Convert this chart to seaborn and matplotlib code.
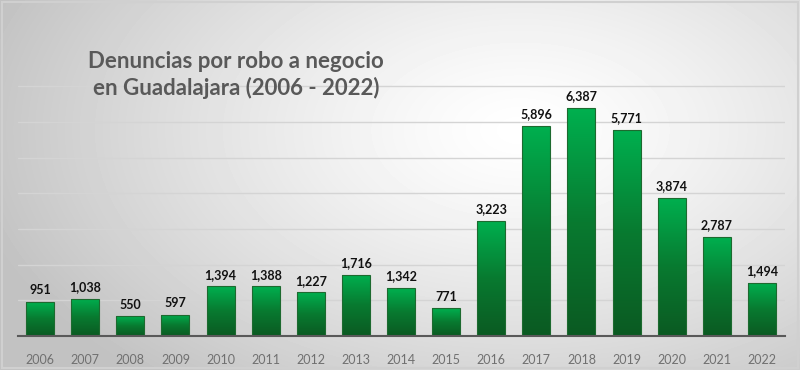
import numpy as np
import pandas as pd
import matplotlib
matplotlib.use("Agg")
import matplotlib.pyplot as plt
import seaborn as sns
from matplotlib.colors import LinearSegmentedColormap
from matplotlib.patches import Rectangle

years = ["2006", "2007", "2008", "2009", "2010", "2011", "2012", "2013", "2014",
         "2015", "2016", "2017", "2018", "2019", "2020", "2021", "2022"]
values = [951, 1038, 550, 597, 1394, 1388, 1227, 1716, 1342,
          771, 3223, 5896, 6387, 5771, 3874, 2787, 1494]
title = "Denuncias por robo a negocio\nen Guadalajara (2006 - 2022)"

sns.set_theme(style="white")
plt.rcParams["font.family"] = ["Lato", "DejaVu Sans"]

W, H = 800, 370
fig = plt.figure(figsize=(W / 100, H / 100), dpi=100)

# background radial gradient
bg = fig.add_axes([0, 0, 1, 1], zorder=0)
yy, xx = np.mgrid[0:H, 0:W]
d = np.sqrt(((xx - 520) / 560.0) ** 2 + ((yy - 130) / 330.0) ** 2)
shade = 1 - 0.24 * np.clip(d, 0, 1) ** 1.3
bg.imshow(shade, cmap="gray", vmin=0, vmax=1, extent=[0, W, H, 0], aspect="auto")
bg.set_xlim(0, W)
bg.set_ylim(H, 0)
bg.axis("off")
bg.add_patch(Rectangle((1.5, 1.5), W - 4, H - 4, fill=False, edgecolor="#d0d0d0", lw=1.5))

# main axes
left, right = 17.5, 784.5
base = 336
ymax = 7800
pxu = 228 / 6387.0
top = base - ymax * pxu
ax = fig.add_axes([left / W, (H - base) / H, (right - left) / W, (base - top) / H], zorder=1)
ax.patch.set_alpha(0)

df = pd.DataFrame({"year": years, "value": values})
sns.barplot(data=df, x="year", y="value", ax=ax, width=0.62, color="#00b050",
            edgecolor="#1d6a2f", linewidth=0.8, zorder=3)
ax.set_ylim(0, ymax)

cmap = LinearSegmentedColormap.from_list("g", ["#0b5a22", "#087a30", "#00b04f"])
grad = np.linspace(0, 1, 256).reshape(-1, 1)
for p in ax.patches:
    x0, w, h = p.get_x(), p.get_width(), p.get_height()
    p.set_facecolor("none")
    im = ax.imshow(grad, cmap=cmap, origin="lower", aspect="auto",
                   extent=[x0, x0 + w, 0, h], zorder=2.5)
    im.set_clip_path(p)
ax.set_xlim(-0.5, len(years) - 0.5)
ax.set_ylim(0, ymax)

for i, v in enumerate(values):
    ax.annotate(f"{v:,}", (i, v), xytext=(0, 4), textcoords="offset points",
                ha="center", va="bottom", fontsize=9, fontweight="bold",
                color="#111111", zorder=5)

ax.set_yticks(range(0, 8000, 1000))
ax.yaxis.grid(True, color="#d4d4d4", lw=1)
ax.set_axisbelow(True)
ax.tick_params(axis="y", left=False, labelleft=False)
ax.tick_params(axis="x", bottom=False, labelsize=9, labelcolor="#707070", pad=7)
for s in ["top", "right", "left"]:
    ax.spines[s].set_visible(False)
ax.spines["bottom"].set_color("#595959")
ax.spines["bottom"].set_linewidth(1.5)
ax.spines["bottom"].set_zorder(4)
ax.set_xlabel("")
ax.set_ylabel("")

fig.text(236 / W, 1 - 75 / H, title, ha="center", va="center", fontsize=16,
         fontweight="bold", color="#595959", linespacing=1.22, zorder=6)

fig.savefig("out.png", dpi=100)
